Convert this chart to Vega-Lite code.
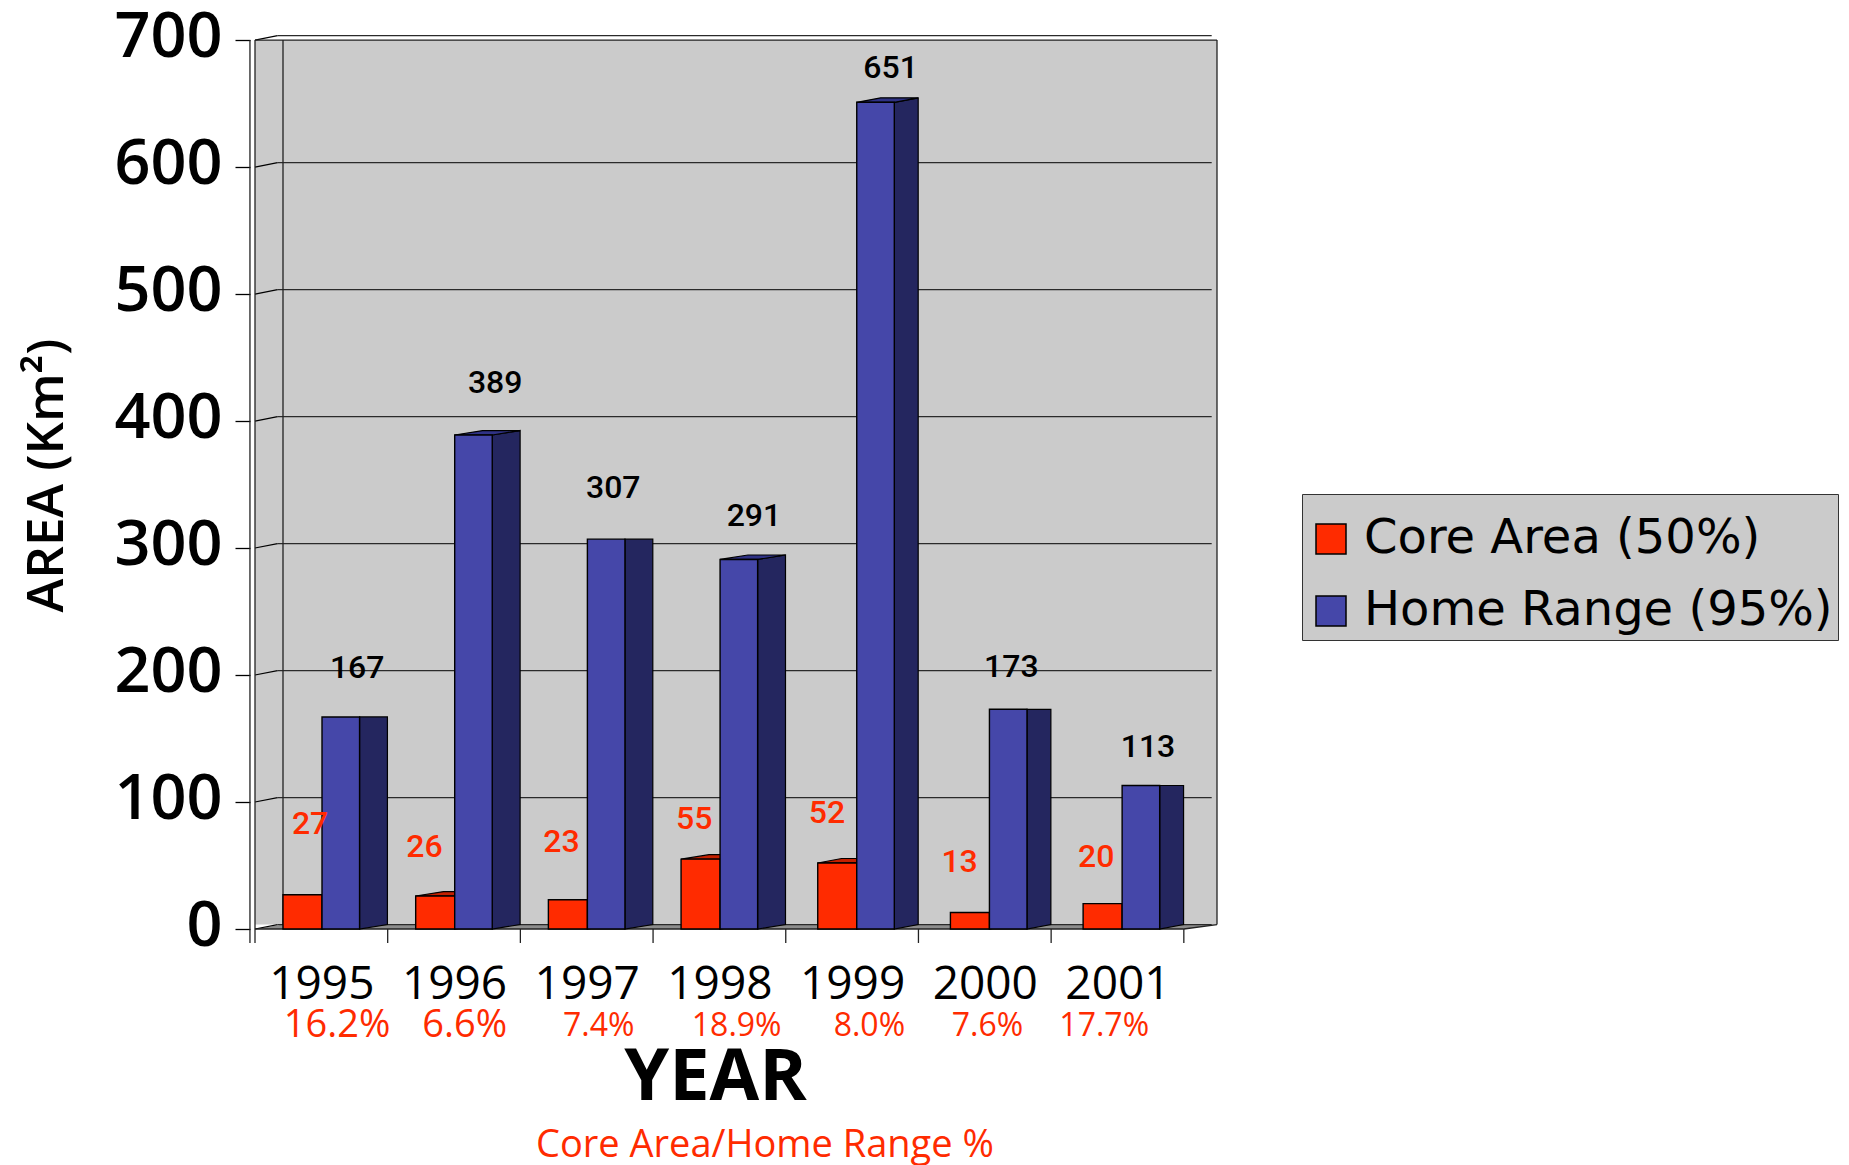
{
  "$schema": "https://vega.github.io/schema/vega-lite/v6.json",
  "width": 962,
  "height": 894,
  "autosize": {"type": "none"},
  "padding": {"left": 255, "top": 35, "right": 632, "bottom": 236},
  "background": "white",
  "config": {"view": {"stroke": null}, "font": "Open Sans"},
  "datasets": {
    "bars": [
      {"year": 1995, "series": "Core Area (50%)", "kind": "core", "value": 27},
      {"year": 1996, "series": "Core Area (50%)", "kind": "core", "value": 26},
      {"year": 1997, "series": "Core Area (50%)", "kind": "core", "value": 23},
      {"year": 1998, "series": "Core Area (50%)", "kind": "core", "value": 55},
      {"year": 1999, "series": "Core Area (50%)", "kind": "core", "value": 52},
      {"year": 2000, "series": "Core Area (50%)", "kind": "core", "value": 13},
      {"year": 2001, "series": "Core Area (50%)", "kind": "core", "value": 20},
      {"year": 1995, "series": "Home Range (95%)", "kind": "home", "value": 167},
      {"year": 1996, "series": "Home Range (95%)", "kind": "home", "value": 389},
      {"year": 1997, "series": "Home Range (95%)", "kind": "home", "value": 307},
      {"year": 1998, "series": "Home Range (95%)", "kind": "home", "value": 291},
      {"year": 1999, "series": "Home Range (95%)", "kind": "home", "value": 651},
      {"year": 2000, "series": "Home Range (95%)", "kind": "home", "value": 173},
      {"year": 2001, "series": "Home Range (95%)", "kind": "home", "value": 113}
    ],
    "callouts": [
      {"kind": "core", "value": 27, "at_year": 1995.415, "at_area": 83.5},
      {"kind": "core", "value": 26, "at_year": 1996.277, "at_area": 65},
      {"kind": "core", "value": 23, "at_year": 1997.31, "at_area": 69.5},
      {"kind": "core", "value": 55, "at_year": 1998.31, "at_area": 87.2},
      {"kind": "core", "value": 52, "at_year": 1999.31, "at_area": 91.8},
      {"kind": "core", "value": 13, "at_year": 2000.31, "at_area": 53.8},
      {"kind": "core", "value": 20, "at_year": 2001.34, "at_area": 57.5},
      {"kind": "home", "value": 167, "at_year": 1995.77, "at_area": 206},
      {"kind": "home", "value": 389, "at_year": 1996.81, "at_area": 430.7},
      {"kind": "home", "value": 307, "at_year": 1997.7, "at_area": 348},
      {"kind": "home", "value": 291, "at_year": 1998.76, "at_area": 326},
      {"kind": "home", "value": 651, "at_year": 1999.79, "at_area": 679},
      {"kind": "home", "value": 173, "at_year": 2000.7, "at_area": 207},
      {"kind": "home", "value": 113, "at_year": 2001.73, "at_area": 144}
    ],
    "shares": [
      {"year": 1995, "share": "16.2%", "at_year": 1995.618},
      {"year": 1996, "share": "6.6%", "at_year": 1996.58},
      {"year": 1997, "share": "7.4%", "at_year": 1997.59},
      {"year": 1998, "share": "18.9%", "at_year": 1998.63},
      {"year": 1999, "share": "8.0%", "at_year": 1999.63},
      {"year": 2000, "share": "7.6%", "at_year": 2000.52},
      {"year": 2001, "share": "17.7%", "at_year": 2001.4}
    ],
    "gridValues": [
      {"v": 0}, {"v": 100}, {"v": 200}, {"v": 300}, {"v": 400}, {"v": 500}, {"v": 600}, {"v": 700}
    ],
    "floor": [
      {"x": 1995, "low": 0, "high": 0},
      {"x": 1995.211, "low": 0, "high": 3.5},
      {"x": 2002, "low": 0, "high": 3.5},
      {"x": 2002.25, "low": 3.5, "high": 3.5}
    ],
    "frame": [
      {"xa": 1994.962, "xb": 1994.962, "ya": -11, "yb": 700},
      {"xa": 1995, "xb": 1995, "ya": -11, "yb": 700},
      {"xa": 1995.211, "xb": 1995.211, "ya": 3.5, "yb": 700},
      {"xa": 2002.25, "xb": 2002.25, "ya": 3.5, "yb": 700},
      {"xa": 1995, "xb": 2002.25, "ya": 700, "yb": 700},
      {"xa": 1995, "xb": 2002, "ya": 0, "yb": 0},
      {"xa": 2002, "xb": 2002.25, "ya": 0, "yb": 3.5},
      {"xa": 1996, "xb": 1996, "ya": -11, "yb": 0},
      {"xa": 1997, "xb": 1997, "ya": -11, "yb": 0},
      {"xa": 1998, "xb": 1998, "ya": -11, "yb": 0},
      {"xa": 1999, "xb": 1999, "ya": -11, "yb": 0},
      {"xa": 2000, "xb": 2000, "ya": -11, "yb": 0},
      {"xa": 2001, "xb": 2001, "ya": -11, "yb": 0},
      {"xa": 2002, "xb": 2002, "ya": -11, "yb": 0}
    ]
  },
  "layer": [
    {
      "description": "Back and left walls; this layer also carries both axes",
      "data": {"values": [{"xa": 1995, "xb": 2002.25, "low": 3.5, "high": 700}]},
      "mark": {"type": "rect", "fill": "#CBCBCB"},
      "encoding": {
        "x": {
          "field": "xa", "type": "quantitative",
          "scale": {"domain": [1995, 2002.25], "nice": false, "zero": false},
          "axis": {
            "values": [1995.5, 1996.5, 1997.5, 1998.5, 1999.5, 2000.5, 2001.5],
            "labelExpr": "floor(datum.value)",
            "title": "YEAR",
            "titleFontSize": 72, "titleFontWeight": 700, "titleColor": "black",
            "titleX": 460, "titleY": 170, "titleBaseline": "alphabetic", "titleAlign": "center", "titleFont": "Open Sans",
            "ticks": false, "domain": false, "grid": false,
            "labelFontSize": 46, "labelColor": "black", "labelFont": "Open Sans",
            "labelBaseline": "alphabetic", "labelPadding": 69, "labelFlush": false, "labelOverlap": false
          }
        },
        "x2": {"field": "xb"},
        "y": {
          "field": "low", "type": "quantitative",
          "scale": {"domain": [0, 704], "nice": false, "zero": false},
          "axis": {
            "values": [0, 100, 200, 300, 400, 500, 600, 700],
            "title": "AREA (Km²)",
            "titleFontSize": 51, "titleFontWeight": 600, "titleColor": "black", "titleFont": "Open Sans",
            "titleX": -203, "titleY": 440, "titleAngle": 270, "titleAlign": "center", "titleBaseline": "middle",
            "offset": 5, "tickSize": 15, "tickColor": "black", "tickWidth": 1.3,
            "domain": false, "grid": false,
            "labelFontSize": 63, "labelFontWeight": 600, "labelColor": "black", "labelFont": "Open Sans",
            "labelPadding": 13, "labelOffset": -3
          }
        },
        "y2": {"field": "high"}
      }
    },
    {
      "description": "Darker floor slab under the bars",
      "data": {"name": "floor"},
      "mark": {"type": "area", "fill": "#8C8C8C", "stroke": null},
      "encoding": {
        "x": {"field": "x", "type": "quantitative"},
        "y": {"field": "high", "type": "quantitative"},
        "y2": {"field": "low"}
      }
    },
    {
      "description": "Gridlines on the back wall",
      "data": {"name": "gridValues"},
      "transform": [{"calculate": "datum.v + 3.5", "as": "back"}],
      "mark": {"type": "rule", "stroke": "#2A2A2A", "strokeWidth": 1.3},
      "encoding": {
        "x": {"datum": 1995.17, "type": "quantitative"},
        "x2": {"datum": 2002.21},
        "y": {"field": "back", "type": "quantitative"}
      }
    },
    {
      "description": "Slanted stubs joining each axis tick to its gridline",
      "data": {"name": "gridValues"},
      "transform": [{"calculate": "datum.v + 3.5", "as": "back"}],
      "mark": {"type": "rule", "stroke": "black", "strokeWidth": 1.2},
      "encoding": {
        "x": {"datum": 1995, "type": "quantitative"},
        "x2": {"datum": 1995.17},
        "y": {"field": "v", "type": "quantitative"},
        "y2": {"field": "back"}
      }
    },
    {
      "description": "Chart box edges and category ticks",
      "data": {"name": "frame"},
      "mark": {"type": "rule", "stroke": "#222222", "strokeWidth": 1.3},
      "encoding": {
        "x": {"field": "xa", "type": "quantitative"},
        "x2": {"field": "xb"},
        "y": {"field": "ya", "type": "quantitative"},
        "y2": {"field": "yb"}
      }
    },
    {
      "description": "Side faces: the extruded right edge of every bar; the last three years lean less",
      "data": {"name": "bars"},
      "transform": [
        {"calculate": "datum.year == 1996 || datum.year == 1998 || datum.year == 1999", "as": "sloped"},
        {"calculate": "datum.year >= 1999 ? 0.03 : 0", "as": "shift"},
        {"calculate": "datum.year + datum.shift + (datum.kind == 'core' ? 0.505 : 0.788)", "as": "edge"},
        {"calculate": "[0, 1]", "as": "t"},
        {"flatten": ["t"]},
        {"calculate": "datum.edge + datum.t * (0.21 - datum.shift)", "as": "sx"},
        {"calculate": "datum.t * 3.5", "as": "sLow"},
        {"calculate": "datum.value + (datum.sloped ? datum.t * 3.5 : 0)", "as": "sHigh"}
      ],
      "mark": {"type": "area", "stroke": "black", "strokeWidth": 1.2},
      "encoding": {
        "x": {"field": "sx", "type": "quantitative"},
        "y": {"field": "sHigh", "type": "quantitative"},
        "y2": {"field": "sLow"},
        "detail": [{"field": "year"}, {"field": "kind"}],
        "fill": {"condition": {"test": "datum.kind == 'core'", "value": "#C42000"}, "value": "#24265F"}
      }
    },
    {
      "description": "Top faces, shown only on the years whose bars slope back",
      "data": {"name": "bars"},
      "transform": [
        {"filter": "datum.year == 1996 || datum.year == 1998 || datum.year == 1999"},
        {"calculate": "datum.year >= 1999 ? 0.03 : 0", "as": "shift"},
        {"calculate": "datum.year + datum.shift + (datum.kind == 'core' ? 0.211 : 0.505)", "as": "left"},
        {"calculate": "datum.kind == 'core' ? 0.294 : 0.283", "as": "w"},
        {"calculate": "0.21 - datum.shift", "as": "lean"},
        {"calculate": "[0, 1, 2, 3]", "as": "k"},
        {"flatten": ["k"]},
        {"calculate": "datum.left + (datum.k == 0 ? 0 : datum.k == 1 ? datum.lean : datum.k == 2 ? datum.w : datum.w + datum.lean)", "as": "tx"},
        {"calculate": "datum.value + (datum.k == 0 ? 0 : 3.5)", "as": "tHigh"},
        {"calculate": "datum.value + (datum.k == 3 ? 3.5 : 0)", "as": "tLow"}
      ],
      "mark": {"type": "area", "stroke": "black", "strokeWidth": 1.2},
      "encoding": {
        "x": {"field": "tx", "type": "quantitative"},
        "y": {"field": "tHigh", "type": "quantitative"},
        "y2": {"field": "tLow"},
        "detail": [{"field": "year"}, {"field": "kind"}],
        "fill": {"condition": {"test": "datum.kind == 'core'", "value": "#C42000"}, "value": "#2F3285"}
      }
    },
    {
      "description": "Front faces of the bars, drawn from the stated values",
      "data": {"name": "bars"},
      "transform": [
        {"calculate": "datum.year >= 1999 ? 0.03 : 0", "as": "shift"},
        {"calculate": "datum.year + datum.shift + (datum.kind == 'core' ? 0.211 : 0.505)", "as": "fl"},
        {"calculate": "datum.year + datum.shift + (datum.kind == 'core' ? 0.505 : 0.788)", "as": "fr"},
        {"calculate": "0", "as": "base"}
      ],
      "mark": {"type": "rect", "stroke": "black", "strokeWidth": 1.4},
      "encoding": {
        "x": {"field": "fl", "type": "quantitative"},
        "x2": {"field": "fr"},
        "y": {"field": "value", "type": "quantitative"},
        "y2": {"field": "base"},
        "color": {
          "field": "series", "type": "nominal",
          "scale": {"domain": ["Core Area (50%)", "Home Range (95%)"], "range": ["#FF2B00", "#4547A9"]},
          "legend": {
            "title": " ", "titleFontSize": 8, "titlePadding": 8,
            "orient": "none", "legendX": 1047, "legendY": 459,
            "fillColor": "#CBCBCB", "strokeColor": "#333333", "padding": 5,
            "symbolType": "square", "symbolSize": 900, "symbolStrokeColor": "black", "symbolStrokeWidth": 1.5,
            "labelFont": "DejaVu Sans", "labelFontSize": 48, "labelColor": "black", "labelOffset": 9,
            "rowPadding": 24, "labelLimit": 600
          }
        }
      }
    },
    {
      "description": "Value callouts above the bars",
      "data": {"name": "callouts"},
      "mark": {"type": "text", "font": "Roboto", "fontSize": 32, "fontWeight": 500, "baseline": "middle", "align": "center", "dy": 1},
      "encoding": {
        "x": {"field": "at_year", "type": "quantitative"},
        "y": {"field": "at_area", "type": "quantitative"},
        "text": {"field": "value", "type": "quantitative"},
        "fill": {"condition": {"test": "datum.kind == 'core'", "value": "#FF2B00"}, "value": "black"}
      }
    },
    {
      "description": "Core-to-home-range shares, first two years set larger",
      "data": {"name": "shares"},
      "transform": [{"filter": "datum.year <= 1996"}],
      "mark": {"type": "text", "font": "Open Sans", "fontSize": 38, "fontWeight": 500, "baseline": "middle", "align": "center", "fill": "#FF2B00", "dy": 3},
      "encoding": {
        "x": {"field": "at_year", "type": "quantitative"},
        "y": {"datum": -74, "type": "quantitative"},
        "text": {"field": "share"}
      }
    },
    {
      "description": "Core-to-home-range shares, remaining years",
      "data": {"name": "shares"},
      "transform": [{"filter": "datum.year > 1996"}],
      "mark": {"type": "text", "font": "Open Sans", "fontSize": 32, "fontWeight": 500, "baseline": "middle", "align": "center", "fill": "#FF2B00", "dy": 3},
      "encoding": {
        "x": {"field": "at_year", "type": "quantitative"},
        "y": {"datum": -74, "type": "quantitative"},
        "text": {"field": "share"}
      }
    },
    {
      "description": "Caption for the red share row",
      "data": {"values": [{"caption": "Core Area/Home Range %"}]},
      "mark": {"type": "text", "font": "Open Sans", "fontSize": 38, "fontWeight": 500, "baseline": "middle", "align": "center", "fill": "#FF2B00"},
      "encoding": {
        "x": {"datum": 1998.843, "type": "quantitative"},
        "y": {"datum": -171, "type": "quantitative"},
        "text": {"field": "caption"}
      }
    }
  ]
}
